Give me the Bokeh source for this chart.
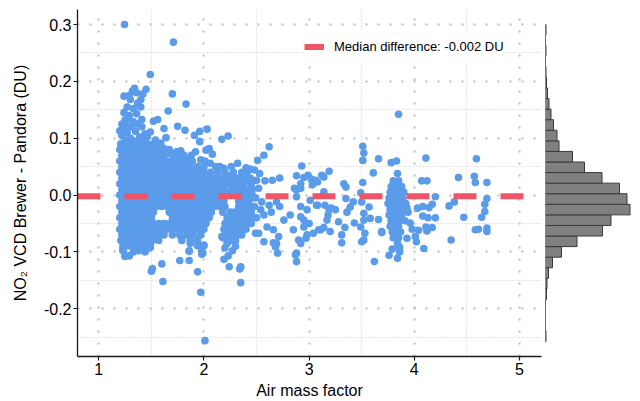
import numpy as np
from bokeh.plotting import figure
from bokeh.models import Range1d, FixedTicker, NumeralTickFormatter, Legend, LegendItem
from bokeh.layouts import row
from bokeh.embed import file_html
from bokeh.resources import INLINE

FONT = "Liberation Sans"
BLUE = "#5A9BEA"
RED = "#EE5567"

# ---------------- values ----------------
x_ticks = [1, 2, 3, 4, 5]
y_ticks = [-0.2, -0.1, 0.0, 0.1, 0.2, 0.3]
x_title = "Air mass factor"
y_title = "NO\u2082 VCD Brewer - Pandora (DU)"
median_diff = -0.002

# marginal histogram (30 bins between data min and max), counts bottom -> top
hist_lo, hist_hi = -0.258, 0.300
hist_counts = [1, 0, 0, 0, 2, 3, 6, 14, 32, 63, 114, 131, 169, 163, 148,
               113, 78, 54, 27, 23, 16, 11, 7, 4, 2, 1, 0, 1, 0, 1]

# scatter: (air mass factor, difference)
upper_pts = [
    (1.245, 0.300), (1.71, 0.269), (1.49, 0.212), (1.70, 0.178), (1.83, 0.160), (1.66, 0.148),
    (1.34, 0.188), (1.32, 0.183), (1.24, 0.174), (1.36, 0.180), (1.45, 0.186), (1.29, 0.175),
    (1.42, 0.178), (1.30, 0.168), (1.37, 0.162), (1.40, 0.168), (1.27, 0.155), (1.33, 0.152),
    (1.40, 0.155), (1.24, 0.145), (1.29, 0.140), (1.36, 0.143), (1.28, 0.135), (1.25, 0.132),
    (1.33, 0.129), (1.41, 0.133), (1.37, 0.125), (1.22, 0.125), (1.26, 0.125), (1.31, 0.120),
    (1.27, 0.110), (1.35, 0.112), (1.39, 0.102), (1.30, 0.100), (1.44, 0.108), (1.22, 0.105),
    (1.25, 0.097), (1.35, 0.095), (1.43, 0.095), (1.20, 0.113), (1.24, 0.117), (1.52, 0.130),
    (1.56, 0.133), (1.41, 0.120), (1.62, 0.117), (1.75, 0.121), (1.82, 0.114), (1.91, 0.105),
    (1.96, 0.112), (2.03, 0.116), (1.64, 0.101), (1.96, 0.094), (2.17, 0.098), (2.23, 0.104),
    (2.02, 0.079), (2.05, 0.082), (1.92, 0.076), (2.08, 0.072), (1.74, 0.076), (1.78, 0.078),
    (1.49, 0.111), (1.46, 0.102), (1.54, 0.097), (1.59, 0.091), (1.51, 0.085), (1.62, 0.082),
    (1.68, 0.073), (1.74, 0.062), (1.84, 0.062), (1.81, 0.070), (1.97, 0.062), (2.06, 0.056),
    (2.11, 0.050), (2.19, 0.047), (2.32, 0.056), (2.40, 0.048), (2.30, 0.016), (1.90, 0.044),
    (1.97, 0.035), (2.03, 0.032), (2.12, 0.026), (2.22, 0.035), (2.35, 0.032), (2.41, 0.026),
    (2.16, 0.009), (2.25, 0.006), (2.38, 0.003), (2.43, 0.009),
]

# dense cloud at low air mass factor, read row by row: (difference, [air mass factors])
blob_rows = [
    (0.090, [1.21, 1.26, 1.31, 1.36, 1.41, 1.46, 1.52, 1.57]),
    (0.080, [1.20, 1.25, 1.30, 1.35, 1.40, 1.45, 1.50, 1.55, 1.61, 1.67]),
    (0.070, [1.22, 1.27, 1.32, 1.37, 1.42, 1.47, 1.52, 1.57, 1.62, 1.71, 1.77, 1.88]),
    (0.060, [1.20, 1.25, 1.30, 1.35, 1.40, 1.45, 1.50, 1.55, 1.60, 1.65, 1.70, 1.79, 1.89, 2.01]),
    (0.050, [1.22, 1.27, 1.32, 1.37, 1.42, 1.47, 1.52, 1.57, 1.62, 1.67, 1.72, 1.77, 1.83, 1.87,
             1.94, 2.00, 2.15, 2.26]),
    (0.040, [1.20, 1.25, 1.30, 1.35, 1.40, 1.45, 1.50, 1.55, 1.60, 1.65, 1.70, 1.75, 1.80, 1.85,
             1.90, 1.95, 2.00, 2.06, 2.13, 2.20, 2.28, 2.36, 2.41]),
    (0.030, [1.22, 1.27, 1.32, 1.37, 1.42, 1.47, 1.52, 1.57, 1.62, 1.67, 1.72, 1.77, 1.82, 1.87,
             1.92, 1.97, 2.02, 2.08, 2.12, 2.16, 2.21, 2.25, 2.30, 2.35, 2.40, 2.44]),
    (0.020, [1.20, 1.25, 1.30, 1.35, 1.40, 1.45, 1.50, 1.55, 1.60, 1.65, 1.70, 1.75, 1.80, 1.85,
             1.90, 1.95, 2.00, 2.05, 2.11, 2.17, 2.23, 2.28, 2.33, 2.38, 2.45]),
    (0.010, [1.22, 1.27, 1.32, 1.37, 1.42, 1.47, 1.52, 1.57, 1.62, 1.67, 1.72, 1.77, 1.82, 1.87,
             1.92, 1.97, 2.02, 2.07, 2.12, 2.19, 2.26, 2.30, 2.34, 2.38, 2.42, 2.46]),
    (0.000, [1.20, 1.25, 1.30, 1.35, 1.40, 1.45, 1.50, 1.55, 1.60, 1.65, 1.70, 1.75, 1.80, 1.85,
             1.90, 1.95, 2.00, 2.05, 2.10, 2.16, 2.21, 2.33, 2.37, 2.40, 2.46]),
    (-0.010, [1.22, 1.27, 1.32, 1.37, 1.42, 1.47, 1.52, 1.57, 1.62, 1.67, 1.72, 1.77, 1.82, 1.87,
              1.92, 1.97, 2.02, 2.07, 2.13, 2.19, 2.33, 2.37, 2.43]),
    (-0.020, [1.20, 1.25, 1.30, 1.35, 1.40, 1.45, 1.50, 1.55, 1.60, 1.65, 1.70, 1.75, 1.80, 1.85,
              1.90, 1.95, 2.00, 2.05, 2.10, 2.15, 2.20, 2.33, 2.38, 2.44]),
    (-0.030, [1.22, 1.27, 1.32, 1.37, 1.42, 1.47, 1.52, 1.67, 1.72, 1.77, 1.82, 1.87, 1.92, 1.97,
              2.02, 2.07, 2.18, 2.25, 2.29, 2.33, 2.37, 2.40, 2.45]),
    (-0.040, [1.20, 1.25, 1.30, 1.35, 1.40, 1.45, 1.50, 1.70, 1.75, 1.80, 1.85, 1.90, 1.95, 2.00,
              2.05, 2.22, 2.26, 2.30, 2.36, 2.42, 2.46]),
    (-0.050, [1.22, 1.27, 1.32, 1.37, 1.42, 1.47, 1.52, 1.57, 1.62, 1.67, 1.72, 1.77, 1.82, 1.87,
              1.92, 1.97, 2.02, 2.20, 2.24, 2.27, 2.31, 2.35, 2.41, 2.45]),
    (-0.060, [1.20, 1.25, 1.30, 1.35, 1.40, 1.45, 1.50, 1.55, 1.60, 1.65, 1.70, 1.75, 1.80, 1.85,
              1.90, 1.95, 2.00, 2.19, 2.23, 2.26, 2.30, 2.33, 2.36, 2.40]),
    (-0.070, [1.22, 1.27, 1.32, 1.37, 1.42, 1.47, 1.52, 1.57, 1.62, 1.70, 1.77, 1.84, 1.90, 1.97,
              2.20, 2.24, 2.28, 2.32, 2.36]),
    (-0.080, [1.21, 1.26, 1.31, 1.36, 1.41, 1.46, 1.51, 1.57, 1.79, 1.87, 1.94, 2.22, 2.26, 2.30]),
    (-0.089, [1.23, 1.28, 1.33, 1.38, 1.44, 1.49, 1.94, 2.00]),
    (-0.098, [1.23, 1.33, 1.38, 1.44, 1.86, 1.98]),
    (-0.107, [1.25, 1.29]),
]

mid_pts = [
    (2.62, 0.085), (2.57, 0.070), (2.51, 0.061), (2.93, 0.051), (2.44, 0.046), (2.48, 0.044),
    (2.53, 0.038), (2.72, 0.030), (2.65, 0.026), (2.58, 0.025), (2.50, 0.026), (2.52, 0.012),
    (2.99, 0.035), (3.02, 0.028), (3.08, 0.023), (2.88, 0.034), (2.92, 0.020), (2.95, 0.031),
    (2.88, 0.009), (2.86, 0.012), (2.92, 0.012), (2.55, -0.012), (2.62, -0.018), (2.69, -0.012),
    (2.72, -0.020), (2.54, -0.026), (2.57, -0.035), (2.76, -0.044), (2.82, -0.035), (2.60, -0.056),
    (2.66, -0.061), (2.71, -0.073), (2.52, -0.067), (2.57, -0.082), (2.68, -0.091), (2.70, -0.102),
    (2.85, -0.061), (2.90, -0.079), (2.92, -0.085), (2.88, -0.102), (2.88, -0.117), (2.95, -0.056),
    (3.00, -0.050), (2.98, -0.070), (2.97, -0.076), (2.92, -0.020), (2.98, -0.026), (2.92, -0.038),
    (2.95, -0.044), (2.88, -0.003), (3.01, -0.009), (3.07, -0.018), (3.09, -0.061), (2.49, -0.067),
    (2.66, -0.084), (2.69, -0.085), (2.87, -0.105), (2.49, -0.005), (2.50, -0.040), (2.48, -0.020),
    (2.64, -0.030),
]

right_pts = [
    (3.51, 0.086), (3.52, 0.074), (3.51, 0.061), (3.66, 0.064), (3.19, 0.042), (3.12, 0.035),
    (3.14, 0.032), (3.06, 0.026), (3.03, 0.018), (3.33, 0.020), (3.35, 0.014), (3.51, 0.022),
    (3.61, 0.039), (3.49, 0.004), (3.14, 0.006), (3.08, -0.018), (3.15, -0.018), (3.19, -0.026),
    (3.25, -0.026), (3.35, -0.006), (3.42, -0.012), (3.39, -0.021), (3.36, -0.030), (3.50, -0.012),
    (3.57, -0.021), (3.52, -0.032), (3.52, -0.044), (3.58, -0.041), (3.66, -0.043), (3.49, -0.056),
    (3.53, -0.067), (3.52, -0.079), (3.28, -0.047), (3.34, -0.057), (3.43, -0.049), (3.31, -0.070),
    (3.31, -0.084), (3.20, -0.064), (3.14, -0.057), (3.11, -0.061), (3.04, -0.067), (3.17, -0.044),
    (3.69, -0.064), (3.62, -0.117), (3.21, -0.023), (3.18, -0.035), (3.50, -0.082), (3.69, -0.066),
    (3.85, 0.142), (3.78, 0.057), (3.83, 0.060), (3.84, 0.038), (3.81, 0.016),
    (3.80, 0.025), (3.85, 0.025), (3.78, 0.015), (3.83, 0.015), (3.88, 0.015), (3.77, 0.005),
    (3.81, 0.005), (3.86, 0.005), (3.90, 0.005), (3.76, -0.005), (3.80, -0.005), (3.84, -0.005),
    (3.89, -0.005), (3.75, -0.015), (3.79, -0.015), (3.83, -0.015), (3.87, -0.015), (3.92, -0.015),
    (3.77, -0.025), (3.81, -0.025), (3.85, -0.025), (3.90, -0.025), (3.76, -0.035), (3.80, -0.035),
    (3.84, -0.035), (3.88, -0.035), (3.78, -0.045), (3.82, -0.045), (3.86, -0.045), (3.91, -0.045),
    (3.77, -0.055), (3.81, -0.055), (3.85, -0.055), (3.79, -0.065), (3.83, -0.065), (3.87, -0.065),
    (3.80, -0.075), (3.85, -0.075), (3.84, -0.085), (3.86, -0.092), (3.86, -0.100), (3.76, -0.106),
    (3.84, -0.111), (3.79, -0.095),
    (4.11, 0.065), (4.59, 0.064), (4.07, 0.025), (4.12, 0.025), (4.42, 0.031), (4.57, 0.033),
    (4.58, 0.022), (4.69, 0.022), (4.20, -0.003), (4.38, -0.012), (4.33, -0.019), (4.47, -0.039),
    (4.17, -0.016), (4.08, -0.020), (4.13, -0.040), (4.08, -0.037), (4.11, -0.056), (4.17, -0.057),
    (4.12, -0.063), (4.35, -0.079), (4.09, -0.094), (4.02, -0.082), (4.69, -0.006), (4.67, -0.016),
    (4.67, -0.029), (4.64, -0.039), (4.58, -0.061), (4.61, -0.060), (4.69, -0.058), (4.69, -0.064),
    (3.93, -0.023), (3.94, -0.030), (4.03, -0.023), (4.14, -0.022), (4.20, -0.040), (3.93, -0.076),
    (3.96, -0.049), (4.01, -0.073), (4.04, -0.062), (3.98, -0.060),
]

lower_pts = [
    (2.01, -0.256), (1.97, -0.171), (1.94, -0.135), (1.61, -0.152), (1.50, -0.134), (1.51, -0.129),
    (1.60, -0.121), (1.77, -0.115), (1.86, -0.115), (2.35, -0.154), (2.34, -0.130), (2.24, -0.126),
    (2.19, -0.113), (1.99, -0.102), (1.94, -0.088), (2.00, -0.088), (1.25, -0.108), (1.23, -0.095),
    (1.86, -0.099), (1.98, -0.104), (2.18, -0.075), (2.22, -0.085), (2.30, -0.090), (1.79, -0.075),
    (1.87, -0.085), (1.33, -0.100), (1.38, -0.094), (1.44, -0.100), (1.49, -0.092), (2.17, -0.073),
    (2.20, -0.093), (2.35, -0.126), (2.27, -0.098), (2.23, -0.107),
]

# ---------------- assemble ----------------
pts = upper_pts + [(x, y) for y, xs in blob_rows for x in xs] + mid_pts + right_pts + lower_pts
amf = [p_[0] for p_ in pts]
diff = [p_[1] for p_ in pts]

x_lo, x_hi = 0.798, 5.209
y_lo, y_hi = -0.2839, 0.3264
x_range = Range1d(x_lo, x_hi)
y_range = Range1d(y_lo, y_hi)

p = figure(width=545, height=401, x_range=x_range, y_range=y_range,
           output_backend="svg", toolbar_location=None,
           min_border_left=77, min_border_right=4, min_border_top=9, min_border_bottom=45)
p.outline_line_color = None
p.background_fill_color = "white"
p.border_fill_color = "white"

x_step = x_ticks[1] - x_ticks[0]
y_step = y_ticks[1] - y_ticks[0]
p.xaxis.ticker = FixedTicker(ticks=x_ticks, minor_ticks=[t - x_step / 2 for t in x_ticks])
p.yaxis.ticker = FixedTicker(ticks=y_ticks, minor_ticks=[t - y_step / 2 for t in y_ticks])
p.yaxis.formatter = NumeralTickFormatter(format="0.0")

for ax in (p.xaxis[0], p.yaxis[0]):
    ax.axis_line_color = "#1a1a1a"
    ax.axis_line_width = 1.3
    ax.major_tick_line_color = "#1a1a1a"
    ax.major_tick_line_width = 1.2
    ax.major_tick_in = 0
    ax.major_tick_out = 4
    ax.minor_tick_line_color = None
    ax.major_label_text_font = FONT
    ax.major_label_text_font_size = "16px"
    ax.major_label_text_color = "black"
    ax.major_label_standoff = 2
    ax.axis_label_text_font = FONT
    ax.axis_label_text_font_size = "16px"
    ax.axis_label_text_font_style = "normal"
    ax.axis_label_text_color = "black"

p.xaxis.axis_label = x_title
p.xaxis.axis_label_standoff = 4
p.yaxis.axis_label = y_title
p.yaxis.axis_label_standoff = 12

for g in (p.xgrid[0], p.ygrid[0]):
    g.grid_line_color = "#BDBDBD"
    g.grid_line_width = 2
    g.grid_line_dash = "2 10"
    g.minor_grid_line_color = "#CFCFCF"
    g.minor_grid_line_width = 1
    g.minor_grid_line_dash = "1 2"

p.scatter(amf, diff, size=7.6, fill_color=BLUE, line_color=None)

med = p.line(x=[x_lo, x_hi], y=[median_diff, median_diff], line_color=RED,
             line_width=6, line_dash="23 24")

legend = Legend(items=[LegendItem(label=f"Median difference: {median_diff:.3f} DU", renderers=[med])],
                location=(227, 293), glyph_width=20, glyph_height=33, label_standoff=10,
                padding=7, margin=0, spacing=0, border_line_color=None,
                background_fill_color="white", background_fill_alpha=1.0,
                label_text_font=FONT, label_text_font_size="13px", label_text_color="black")
p.add_layout(legend)

# ---------------- marginal histogram ----------------
edges = np.linspace(hist_lo, hist_hi, len(hist_counts) + 1)
h = figure(width=95, height=401, x_range=Range1d(0, 190), y_range=y_range,
           output_backend="svg", toolbar_location=None,
           min_border_left=0, min_border_right=0, min_border_top=9, min_border_bottom=45)
h.axis.visible = False
h.grid.visible = False
h.outline_line_color = None
h.quad(left=0, right=hist_counts, bottom=edges[:-1], top=edges[1:],
       fill_color="#808080", line_color="#3a3a3a", line_width=1)

layout = row(p, h)
open("out.html", "w").write(file_html(layout, INLINE))
